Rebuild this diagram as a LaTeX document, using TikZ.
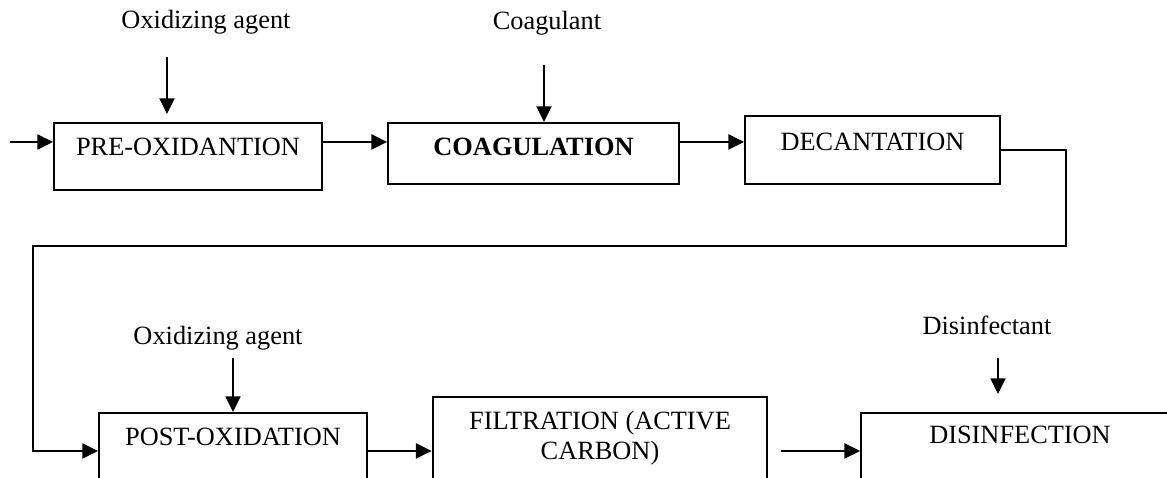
\documentclass[tikz,border=0pt]{standalone}
\usepackage{fontspec}
\setmainfont{Liberation Serif}
\usetikzlibrary{positioning, arrows.meta}

\begin{document}
\begin{tikzpicture}[
    x=0.016cm, y=-0.016cm,
    font=\fontsize{12}{13.9}\selectfont,
    procbox/.style = {
        rectangle, draw, line width=0.9pt, inner sep=0pt,
        align=center, anchor=base
    },
    agentlabel/.style = {
        anchor=base, inner sep=0pt
    },
    arrow/.style = {
        -{Triangle[length=2.5mm, width=2.4mm]}, line width=0.9pt
    },
    line/.style = {
        line width=0.9pt
    }
]
\useasboundingbox (0,0) rectangle (1167,478);
\clip (0,0) rectangle (1167,478);

% ── Top row ──
\node[procbox, minimum width=4.288cm, text height=0.528cm, text depth=0.544cm] (preox)  at (188,156) {PRE-OXIDANTION};
\node[procbox, minimum width=4.656cm, text height=0.528cm, text depth=0.448cm, font=\fontsize{12}{13.9}\selectfont\bfseries] (coag) at (533.5,156) {COAGULATION};
\node[procbox, minimum width=4.08cm, text height=0.56cm, text depth=0.528cm] (decant) at (872.5,151) {DECANTATION};

% ── Bottom row ──
\node[procbox, minimum width=4.288cm, text height=0.528cm, text depth=0.96cm] (postox) at (233,446) {POST-OXIDATION};
\node[procbox, minimum width=5.36cm, text height=1.008cm, text depth=0.96cm] (filt) at (600,460) {FILTRATION (ACTIVE\\CARBON)};
\node[procbox, minimum width=5.088cm, text height=0.496cm, text depth=0.96cm] (disinf) at (1020,444) {DISINFECTION};

% ── Reagents ──
\node[agentlabel] (oxtop) at (206,29)  {Oxidizing agent};
\node[agentlabel] (coagl) at (547,30)  {Coagulant};
\node[agentlabel] (oxbot) at (218,345) {Oxidizing agent};
\node[agentlabel] (disl)  at (987,335) {Disinfectant};

\coordinate (in)   at (10,142);
\coordinate (ox1)  at (167,57);
\coordinate (co1)  at (544,65);
\coordinate (ox2)  at (233,358);
\coordinate (di1)  at (998,358);
\coordinate (bend) at (33,451);

% ── Arrows: reagents → processes ──
\draw[arrow, shorten >=0.128cm] (ox1) -- (ox1 |- preox.north);
\draw[arrow] (co1) -- (co1 |- coag.north);
\draw[arrow] (ox2) -- (ox2 |- postox.north);
\draw[arrow, shorten >=0.288cm] (di1) -- (di1 |- disinf.north);

% ── Arrows: main flow ──
\draw[arrow] (in) -- (in -| preox.west);
\draw[arrow] (preox.east |- in) -- (coag.west |- in);
\draw[arrow] (coag.east |- in) -- (decant.west |- in);
\draw[arrow] (decant.east) -| (1066,246) -| (bend) -- (bend -| postox.west);
\draw[arrow] (postox.east |- bend) -- (filt.west |- bend);
\draw[arrow, shorten <=0.208cm] (filt.east |- bend) -- (disinf.west |- bend);

\end{tikzpicture}
\end{document}
